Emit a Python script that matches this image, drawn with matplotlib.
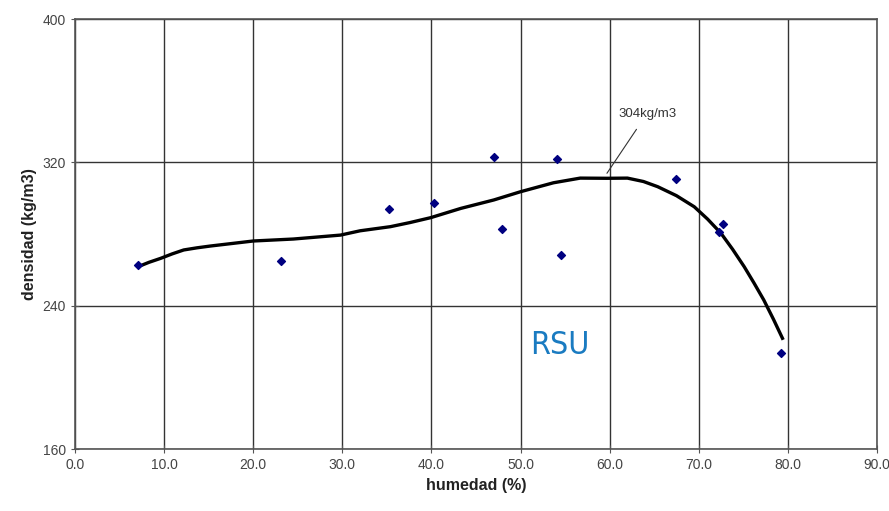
import matplotlib.pyplot as plt

# measured points (humedad %, densidad kg/m3)
hum = [7.1, 23.1, 35.2, 40.3, 47.0, 47.9, 54.1, 54.5, 67.4, 72.3, 72.7, 79.2]
dens = [262.7, 264.9, 294.1, 297.1, 322.8, 282.9, 321.7, 268.3, 310.5, 281.3, 285.6, 213.4]

# fitted trend curve
curve_x = [7.1, 8.3, 9.6, 10.9, 12.2, 13.7, 15.2, 17.6, 20.0, 24.5, 29.8, 32.0, 35.4,
           37.6, 39.9, 43.3, 47.0, 50.0, 53.7, 56.7, 59.7, 62.0, 63.8, 65.4, 67.5,
           69.5, 71.0, 72.5, 73.8, 75.1, 76.2, 77.3, 78.4, 79.4]
curve_y = [261.8, 264.2, 266.4, 268.9, 271.1, 272.3, 273.3, 274.7, 276.1, 277.2,
           279.4, 281.8, 284.1, 286.4, 289.1, 294.3, 299.0, 303.6, 308.6, 311.2,
           311.1, 311.2, 309.3, 306.4, 301.4, 295.2, 288.3, 280.4, 271.5, 261.8,
           252.7, 243.2, 232.3, 221.8]

xticks = [0, 10, 20, 30, 40, 50, 60, 70, 80, 90]
yticks = [160, 240, 320, 400]

plt.rcParams['font.family'] = ['Liberation Sans', 'DejaVu Sans']

fig = plt.figure(figsize=(8.89, 5.11), dpi=100)
ax = fig.add_axes([0.0844, 0.1213, 0.902, 0.8415])

ax.plot(curve_x, curve_y, color='black', lw=2.4, zorder=3)
ax.scatter(hum, dens, marker='D', s=16, color='#000080', zorder=4)

ax.set_xlim(0, 90)
ax.set_ylim(160, 400)
ax.set_xticks(xticks)
ax.set_xticklabels([f"{v:.1f}" for v in xticks])
ax.set_yticks(yticks)
ax.grid(True, color='#333333', lw=1)
ax.set_axisbelow(True)
for s in ax.spines.values():
    s.set_color('#555555')
    s.set_linewidth(1.2)
ax.tick_params(direction='inout', length=6, color='#555555', labelsize=10,
               labelcolor='#444444')

ax.set_xlabel("humedad (%)", fontsize=11.5, fontweight='bold', color='#222222')
ax.set_ylabel("densidad (kg/m3)", fontsize=11.5, fontweight='bold', color='#222222')

ax.annotate("304kg/m3", xy=(59.7, 313.9), xytext=(64.2, 347.2),
            ha='center', va='center', fontsize=9.5, color='#333333',
            arrowprops=dict(arrowstyle='-', color='#333333', lw=0.8,
                            shrinkA=6, shrinkB=0))

ax.text(54.4, 218, "RSU", ha='center', va='center', fontsize=23,
        color='#1a7bc1', family='DejaVu Sans', stretch='condensed')

fig.savefig("out.png", dpi=100)
